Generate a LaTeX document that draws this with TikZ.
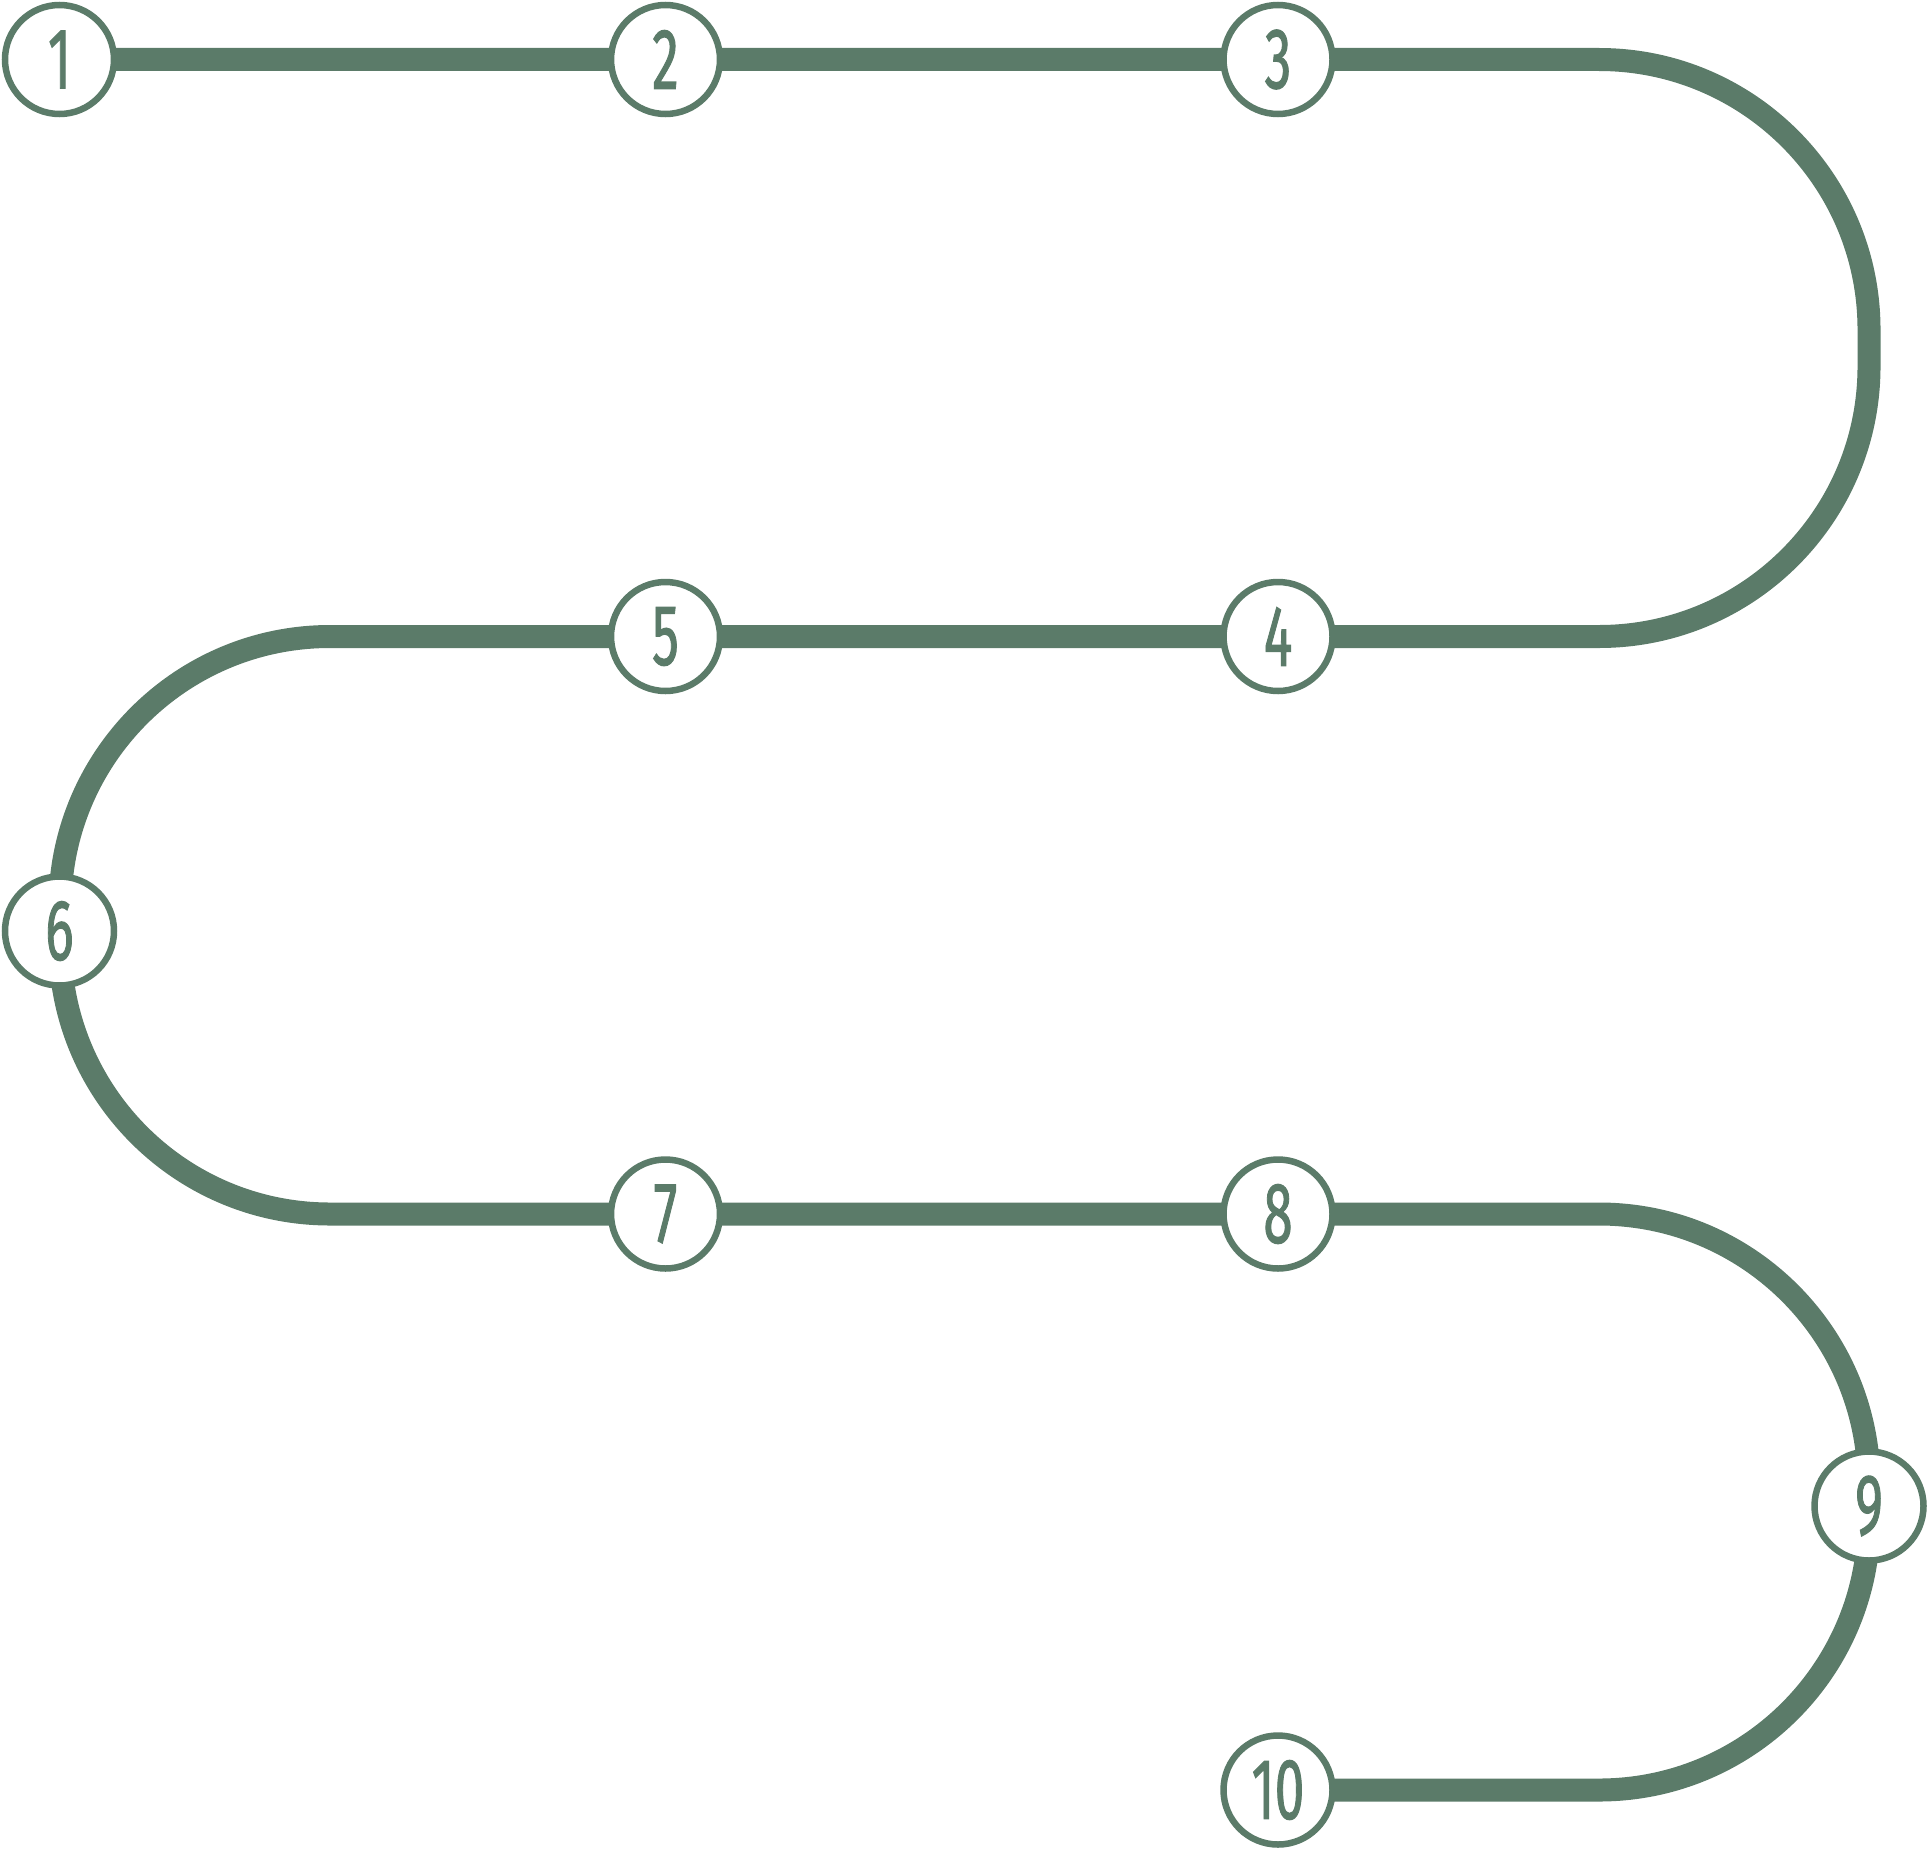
\documentclass[tikz,border=0pt]{standalone}
\usepackage{fontspec}
\usepackage{graphicx}
\usepackage{xcolor}
\usepackage{tikz}
\usetikzlibrary{backgrounds}
\setmainfont{Fira Sans}
\definecolor{trackgreen}{HTML}{5B7B69}
\newcommand{\stoplabel}[1]{\scalebox{0.62}[1]{#1}}

\begin{document}
\begin{tikzpicture}[x=1pt, y=1pt,
    stopnode/.style={circle, draw=trackgreen, line width=6.5pt, fill=white, minimum size=109pt, inner sep=0pt,
      text=trackgreen, font=\fontsize{86}{86}\selectfont\addfontfeature{FakeBold=1.5}},
    track/.style={draw=trackgreen, line width=23pt}]
    \useasboundingbox (0,0) rectangle (1929,-1849);
    \node[stopnode] (n1) at (59.5,-59.5) {\stoplabel{1}};
    \node[stopnode] (n2) at (665.5,-59.5) {\stoplabel{2}};
    \node[stopnode] (n3) at (1278,-59.5) {\stoplabel{3}};
    \node[stopnode] (n4) at (1278,-636.5) {\stoplabel{4}};
    \node[stopnode] (n5) at (665.5,-636.5) {\stoplabel{5}};
    \node[stopnode] (n6) at (59.5,-931) {\stoplabel{6}};
    \node[stopnode] (n7) at (665.5,-1214) {\stoplabel{7}};
    \node[stopnode] (n8) at (1278,-1214) {\stoplabel{8}};
    \node[stopnode] (n9) at (1869,-1506) {\stoplabel{9}};
    \node[stopnode] (n10) at (1278,-1790) {\stoplabel{10}};
    \begin{scope}[on background layer]
      \draw[track] (n1.center) -- (n2.center) -- (n3.center) -- ++(321,0)
        arc[start angle=90, end angle=0, radius=270] -- ++(0,-37)
        arc[start angle=0, end angle=-90, radius=270] -- (n4.center) -- (n5.center) -- ++(-335.5,0)
        arc[start angle=90, end angle=180, radius=270] -- ++(0,-37.5)
        arc[start angle=180, end angle=270, radius=270] -- (n7.center) -- (n8.center) -- ++(321,0)
        arc[start angle=90, end angle=0, radius=270] -- ++(0,-36)
        arc[start angle=0, end angle=-90, radius=270] -- (n10.center);
    \end{scope}
  \end{tikzpicture}
\end{document}
